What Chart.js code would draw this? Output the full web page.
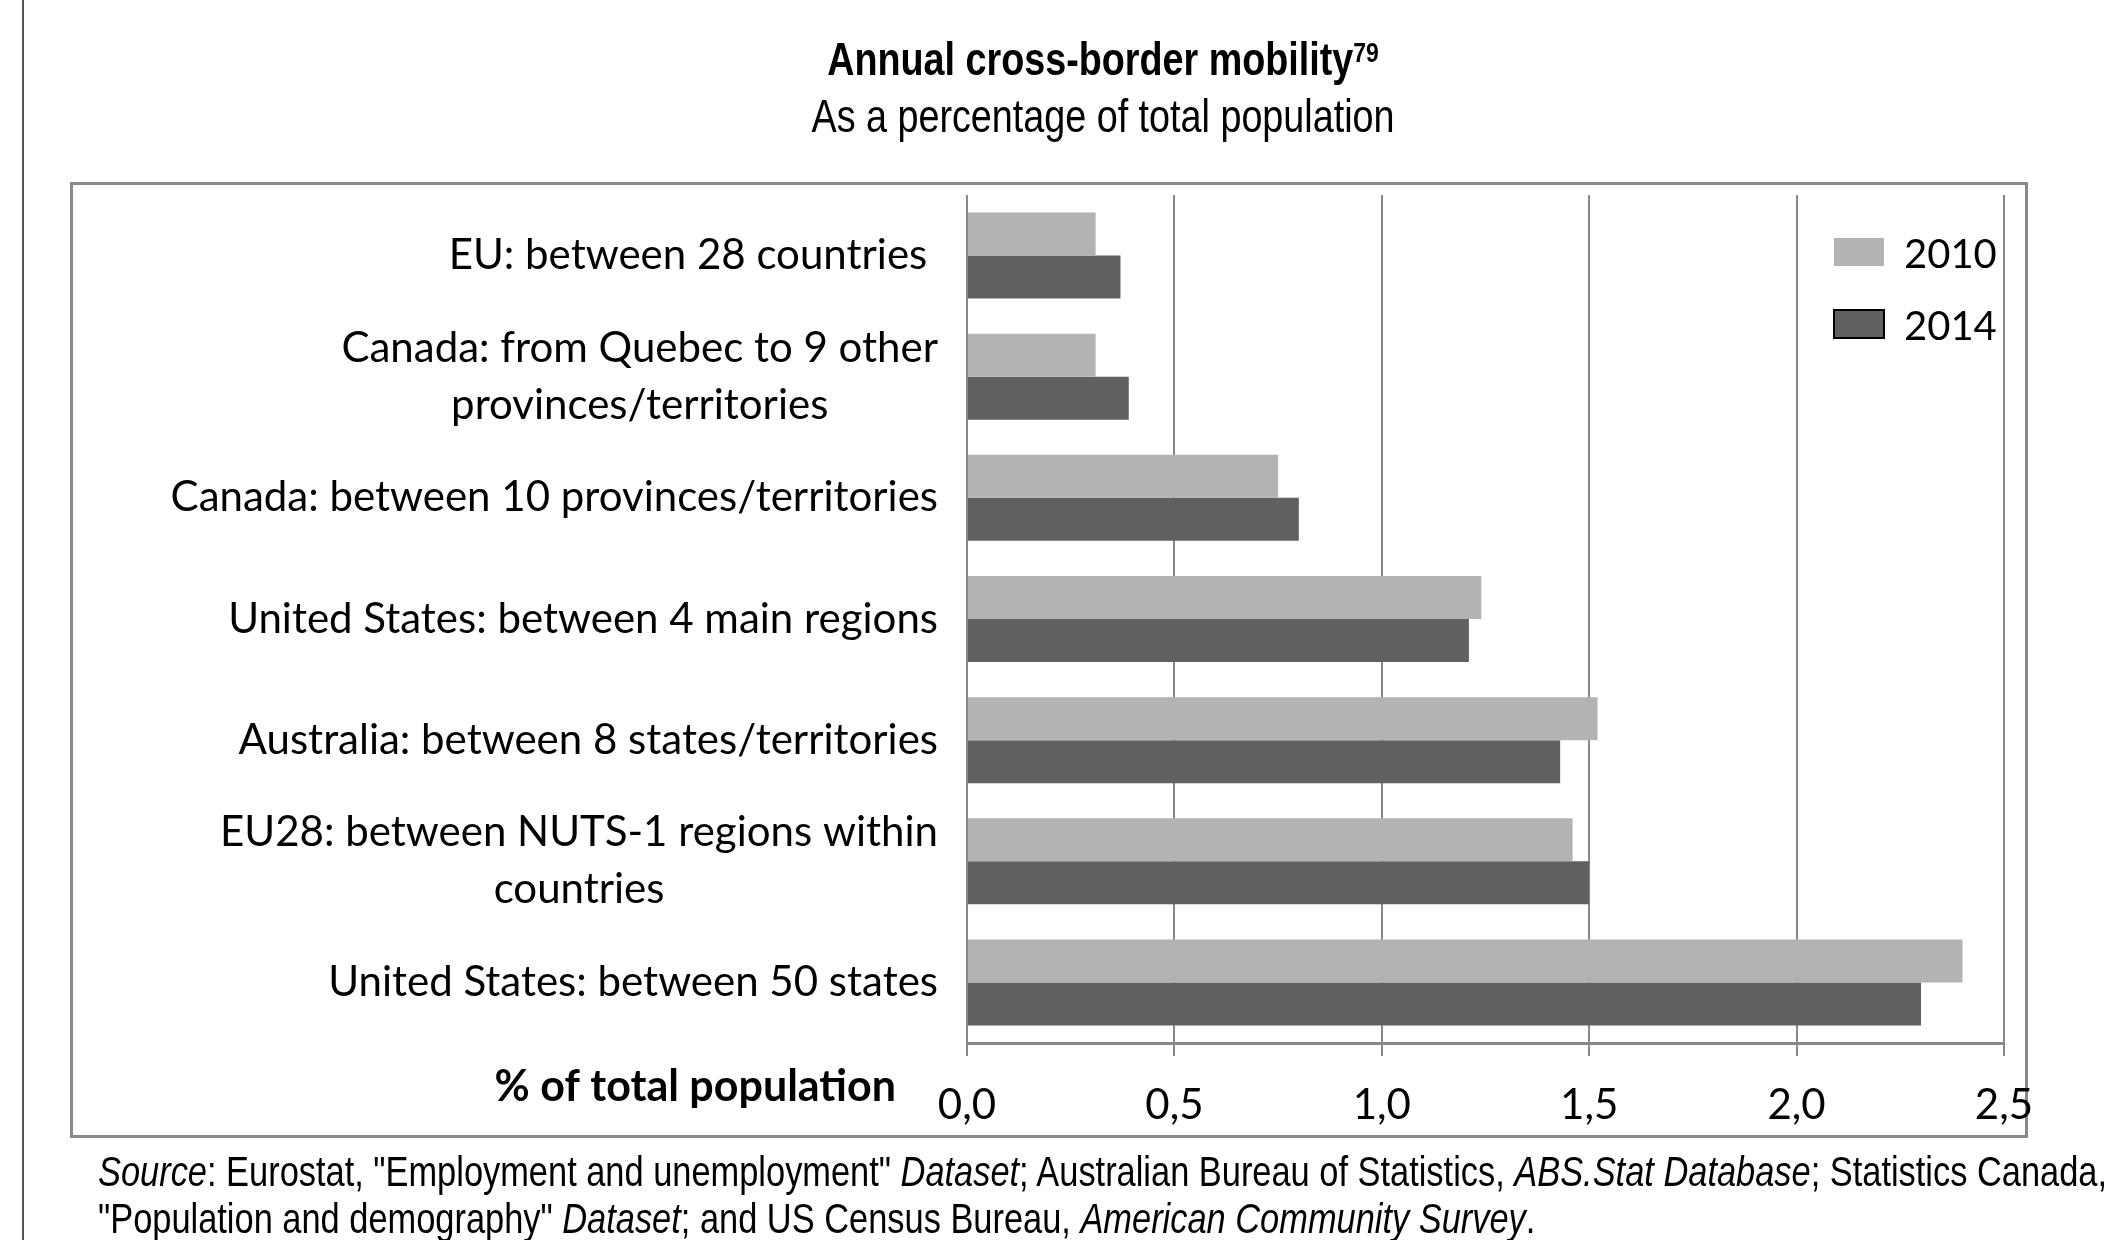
<!DOCTYPE html>
<html><head><meta charset="utf-8">
<script src="https://cdn.jsdelivr.net/npm/chart.js@4.4.1/dist/chart.umd.min.js"></script>
<style>
html,body{margin:0;padding:0;background:#fff;width:2110px;height:1240px;overflow:hidden;}
#c{position:absolute;left:0;top:0;}
.narrow{font-family:'Liberation Sans Narrow','Arial Narrow','Liberation Sans',sans-serif;color:#000;position:absolute;white-space:nowrap;}
#title{left:1103px;top:32px;transform:translateX(-50%) scaleX(0.82);font-size:46px;font-weight:bold;line-height:54px;}
#title sup{font-size:28px;vertical-align:top;position:relative;top:-6px;}
#subtitle{left:1103px;top:89px;transform:translateX(-50%) scaleX(0.82);font-size:46px;line-height:54px;}
#source{left:98px;top:1148px;font-size:42px;line-height:47px;transform-origin:0 0;}
</style></head>
<body>
<div style="position:absolute;left:22px;top:0;width:2px;height:1240px;background:#555"></div>
<div style="position:absolute;left:70px;top:182px;width:1958px;height:956px;box-sizing:border-box;border:3px solid #8a8a8a;"></div>
<canvas id="c" width="2110" height="1240"></canvas>
<div class="narrow" id="title">Annual cross-border mobility<sup>79</sup></div>
<div class="narrow" id="subtitle">As a percentage of total population</div>
<div class="narrow" id="source"><span id="src1"><i>Source</i>: Eurostat, "Employment and unemployment" <i>Dataset</i>; Australian Bureau of Statistics, <i>ABS.Stat Database</i>; Statistics Canada,</span><br><span>"Population and demography" <i>Dataset</i>; and US Census Bureau, <i>American Community Survey</i>.</span></div>
<script>
const categories = [
  ["EU: between 28 countries "],
  ["Canada: from Quebec to 9 other", "provinces/territories"],
  ["Canada: between 10 provinces/territories"],
  ["United States: between 4 main regions"],
  ["Australia: between 8 states/territories"],
  ["EU28: between NUTS-1 regions within", "countries"],
  ["United States: between 50 states"]
];
const seriesNames = ["2010", "2014"];
const values2010 = [0.31, 0.31, 0.75, 1.24, 1.52, 1.46, 2.40];
const values2014 = [0.37, 0.39, 0.80, 1.21, 1.43, 1.50, 2.30];
const xTickLabels = ["0,0", "0,5", "1,0", "1,5", "2,0", "2,5"];
const xAxisTitle = "% of total population";

const LABEL_FONT = "42px Lato";
const colors = ["#b3b3b3", "#606060"];

// fit source text width
(function(){
  const src = document.getElementById('source');
  const w = document.getElementById('src1').getBoundingClientRect().width;
  src.style.transform = 'scaleX(' + (2009 / w) + ')';
})();

const yLabelsPlugin = {
  id: 'yLabels',
  afterDraw(chart) {
    const ctx = chart.ctx;
    const ys = chart.scales.y;
    const rightEdge = chart.chartArea.left - 29;
    const lh = 57;
    ctx.save();
    ctx.font = LABEL_FONT;
    ctx.fillStyle = "#000";
    ctx.textAlign = "center";
    ctx.textBaseline = "middle";
    chart.data.labels.forEach((lines, i) => {
      const cy = ys.getPixelForValue(i);
      const maxW = Math.max(...lines.map(l => ctx.measureText(l).width));
      const cx = rightEdge - maxW / 2;
      const y0 = cy - (lines.length - 1) * lh / 2;
      lines.forEach((l, j) => ctx.fillText(l, cx, y0 + j * lh));
    });
    ctx.font = "bold 43px Lato";
    ctx.textAlign = "right";
    ctx.fillText(xAxisTitle, chart.chartArea.left - 71, chart.chartArea.bottom + 44);
    ctx.restore();
  }
};

const legendPlugin = {
  id: 'customLegend',
  afterDraw(chart) {
    const ctx = chart.ctx;
    ctx.save();
    ctx.font = "40px Lato";
    ctx.textBaseline = "middle";
    ctx.textAlign = "left";
    chart.data.datasets.forEach((ds, i) => {
      const x = 1834, y = 238 + i * 72;
      ctx.fillStyle = ds.backgroundColor;
      ctx.fillRect(x, y, 50, 28);
      if (i === 1) { ctx.strokeStyle = "#000"; ctx.lineWidth = 2; ctx.strokeRect(x, y, 50, 28); }
      ctx.fillStyle = "#000";
      ctx.fillText(ds.label, 1904, y + 17);
    });
    ctx.restore();
  }
};

new Chart(document.getElementById('c').getContext('2d'), {
  type: 'bar',
  data: {
    labels: categories,
    datasets: [
      { label: seriesNames[0], data: values2010, backgroundColor: colors[0], borderWidth: 0, categoryPercentage: 0.71, barPercentage: 1 },
      { label: seriesNames[1], data: values2014, backgroundColor: colors[1], borderWidth: 0, categoryPercentage: 0.71, barPercentage: 1 }
    ]
  },
  options: {
    indexAxis: 'y',
    responsive: false,
    animation: false,
    devicePixelRatio: 1,
    layout: { padding: { top: 195, right: 106, left: 0, bottom: 0 } },
    plugins: { legend: { display: false }, tooltip: { enabled: false }, title: { display: false } },
    scales: {
      x: {
        min: 0, max: 2.5,
        ticks: { stepSize: 0.5, callback: (v) => xTickLabels[Math.round(v / 0.5)], font: { family: 'Lato', size: 42 }, color: '#000', padding: 24 },
        grid: { color: '#888', lineWidth: 2, tickLength: 13, drawTicks: true },
        border: { display: true, color: '#888', width: 3 },
        afterFit: (s) => { s.height = 197; }
      },
      y: {
        ticks: { display: false },
        grid: { display: false },
        border: { display: false },
        afterFit: (s) => { s.width = 967; }
      }
    }
  },
  plugins: [yLabelsPlugin, legendPlugin]
});
</script>
</body></html>
